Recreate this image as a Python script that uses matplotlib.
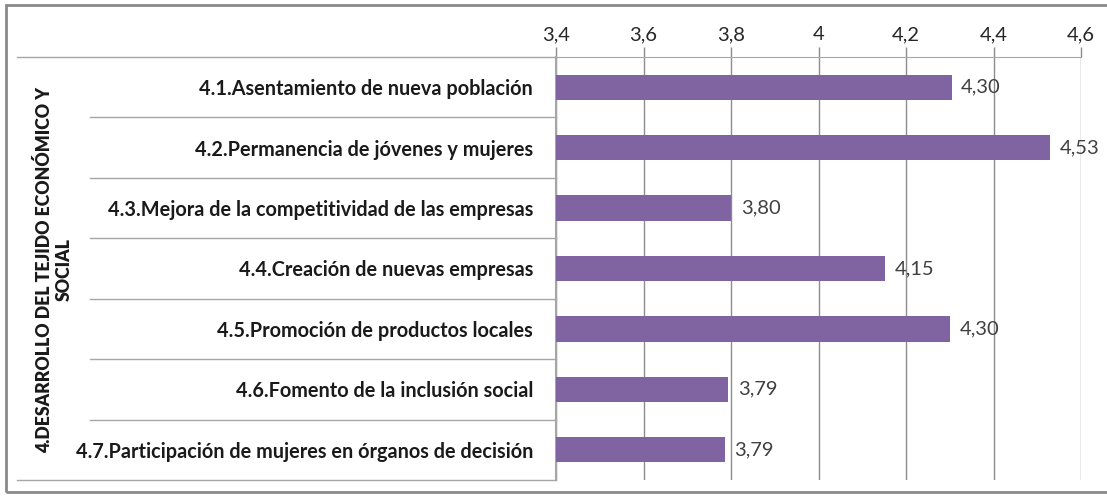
import matplotlib
matplotlib.use("Agg")
import matplotlib.pyplot as plt
from matplotlib.patches import Rectangle
from matplotlib.ticker import FuncFormatter
import matplotlib.transforms as mtransforms

plt.rcParams["font.family"] = ["Lato", "DejaVu Sans"]

GROUP = "4.DESARROLLO DEL TEJIDO ECONÓMICO Y\nSOCIAL"
categories = [
    "4.1.Asentamiento de nueva población",
    "4.2.Permanencia de jóvenes y mujeres",
    "4.3.Mejora de la competitividad de las empresas",
    "4.4.Creación de nuevas empresas",
    "4.5.Promoción de productos locales",
    "4.6.Fomento de la inclusión social",
    "4.7.Participación de mujeres en órganos de decisión",
]
values = [4.304, 4.529, 3.80, 4.151, 4.30, 3.793, 3.786]
xticks = [3.4, 3.6, 3.8, 4.0, 4.2, 4.4, 4.6]

BAR = "#8064A2"
GRID = "#8C8C8C"
AXIS = "#A6A6A6"
TXT = "#404040"


def comma(v, _=None):
    s = f"{v:g}"
    return s.replace(".", ",")


W, H = 1107, 497
fig = plt.figure(figsize=(W / 100, H / 100), dpi=100)
ax = fig.add_axes([556 / W, 1 - 480 / H, 525 / W, 423 / H])

y = list(range(len(categories)))
ax.barh(y, [v - xticks[0] for v in values], left=xticks[0], height=0.42,
        color=BAR, zorder=3)
ax.set_xlim(xticks[0], xticks[-1])
ax.set_ylim(len(categories) - 0.5, -0.5)

ax.xaxis.tick_top()
ax.set_xticks(xticks)
ax.xaxis.set_major_formatter(FuncFormatter(comma))
ax.tick_params(axis="x", length=7, color=GRID, width=1, pad=3,
               labelsize=14.5, labelcolor="#262626")
ax.grid(axis="x", color=GRID, lw=1, zorder=0)

ax.set_yticks(y)
ax.set_yticklabels(categories, fontweight="bold", fontsize=14.3, color="#1a1a1a")
ax.tick_params(axis="y", length=0, pad=16.5)

for s in ["right", "bottom"]:
    ax.spines[s].set_visible(False)
ax.spines["top"].set_color(AXIS)
ax.spines["left"].set_color(AXIS)
ax.spines["left"].set_linewidth(1.5)

for yi, v in zip(y, values):
    ax.annotate(f"{v:.2f}".replace(".", ","), (v, yi), xytext=(7, 0),
                textcoords="offset points", va="center", ha="left",
                fontsize=14.5, color=TXT, zorder=4)

# multi-level category separators
trans = mtransforms.blended_transform_factory(ax.transAxes, ax.transData)
inner_x = (90 - 556) / 525
outer_x = (17 - 556) / 525
for b in range(1, len(categories)):
    ax.plot([inner_x, 0], [b - 0.5, b - 0.5], transform=trans, color=AXIS,
            lw=1, clip_on=False)
for b in [-0.5, len(categories) - 0.5]:
    ax.plot([outer_x, 0], [b, b], transform=trans, color=AXIS,
            lw=1, clip_on=False)

fig.text(54 / W, 1 - 270 / H, GROUP, rotation=90, ha="center", va="center",
         multialignment="center", fontweight="heavy", fontsize=12.7,
         color="#1a1a1a", linespacing=1.2)

fig.patches.append(Rectangle((6 / W, 1 - 492 / H), 1.2, 487 / H,
                             transform=fig.transFigure, fill=False,
                             edgecolor="#8a8a8a", lw=2))

fig.savefig("out.png", dpi=100)
